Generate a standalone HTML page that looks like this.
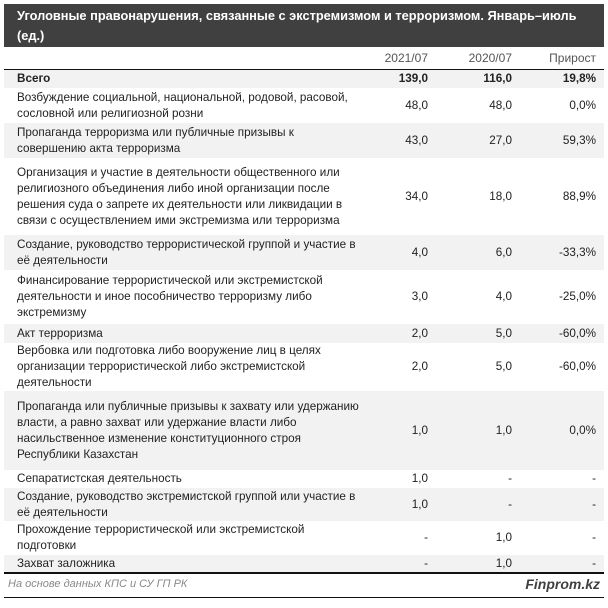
<!DOCTYPE html>
<html><head><meta charset="utf-8"><style>
*{margin:0;padding:0;box-sizing:border-box}
body{width:608px;height:608px;background:#fff;font-family:"Liberation Sans","Noto Sans CJK SC",sans-serif;color:#222;position:relative;overflow:hidden}
.title{position:absolute;left:4px;top:4px;width:600px;height:43px;background:#404040;color:#fff;font-weight:bold;font-size:12.8px;line-height:20px;padding:2px 0 0 13px;white-space:nowrap;overflow:hidden}
.hdr{position:absolute;top:51px;font-size:12px;color:#555;text-align:right}
.line{position:absolute;left:4px;width:600px;height:1.5px;background:#111}
.row{position:absolute;left:4px;width:600px;font-size:11.7px;line-height:16px}
.row.s{background:#f2f2f2}
.row .t{position:absolute;left:13px;top:50%;transform:translateY(-50%);white-space:nowrap}
.row .v{position:absolute;top:50%;transform:translateY(-50%);text-align:right;width:80px}
.a{left:344px}.b{left:428px}.c{left:512px}
.bold{font-weight:bold}
</style></head><body>
<div class="title">Уголовные правонарушения, связанные с экстремизмом и терроризмом. Январь–июль<br>(ед.)</div>
<div class="hdr" style="left:348px;width:80px">2021/07</div>
<div class="hdr" style="left:432px;width:80px">2020/07</div>
<div class="hdr" style="left:516px;width:80px">Прирост</div>
<div class="line" style="top:68.5px"></div>

<div class="row s bold" style="top:70px;height:18px"><span class="t">Всего</span><span class="v a">139,0</span><span class="v b">116,0</span><span class="v c">19,8%</span></div>
<div class="row" style="top:88px;height:35px"><span class="t">Возбуждение социальной, национальной, родовой, расовой,<br>сословной или религиозной розни</span><span class="v a">48,0</span><span class="v b">48,0</span><span class="v c">0,0%</span></div>
<div class="row s" style="top:123px;height:35px"><span class="t">Пропаганда терроризма или публичные призывы к<br>совершению акта терроризма</span><span class="v a">43,0</span><span class="v b">27,0</span><span class="v c">59,3%</span></div>
<div class="row" style="top:158px;height:77px"><span class="t">Организация и участие в деятельности общественного или<br>религиозного объединения либо иной организации после<br>решения суда о запрете их деятельности или ликвидации в<br>связи с осуществлением ими экстремизма или терроризма</span><span class="v a">34,0</span><span class="v b">18,0</span><span class="v c">88,9%</span></div>
<div class="row s" style="top:235px;height:35px"><span class="t">Создание, руководство террористической группой и участие в<br>её деятельности</span><span class="v a">4,0</span><span class="v b">6,0</span><span class="v c">-33,3%</span></div>
<div class="row" style="top:270px;height:54px"><span class="t">Финансирование террористической или экстремистской<br>деятельности и иное пособничество терроризму либо<br>экстремизму</span><span class="v a">3,0</span><span class="v b">4,0</span><span class="v c">-25,0%</span></div>
<div class="row s" style="top:324px;height:19px"><span class="t">Акт терроризма</span><span class="v a">2,0</span><span class="v b">5,0</span><span class="v c">-60,0%</span></div>
<div class="row" style="top:343px;height:48px"><span class="t">Вербовка или подготовка либо вооружение лиц в целях<br>организации террористической либо экстремистской<br>деятельности</span><span class="v a">2,0</span><span class="v b">5,0</span><span class="v c">-60,0%</span></div>
<div class="row s" style="top:391px;height:79px"><span class="t">Пропаганда или публичные призывы к захвату или удержанию<br>власти, а равно захват или удержание власти либо<br>насильственное изменение конституционного строя<br>Республики Казахстан</span><span class="v a">1,0</span><span class="v b">1,0</span><span class="v c">0,0%</span></div>
<div class="row" style="top:470px;height:18px"><span class="t">Сепаратистская деятельность</span><span class="v a">1,0</span><span class="v b">-</span><span class="v c">-</span></div>
<div class="row s" style="top:488px;height:33px"><span class="t">Создание, руководство экстремистской группой или участие в<br>её деятельности</span><span class="v a">1,0</span><span class="v b">-</span><span class="v c">-</span></div>
<div class="row" style="top:521px;height:34px"><span class="t">Прохождение террористической или экстремистской<br>подготовки</span><span class="v a">-</span><span class="v b">1,0</span><span class="v c">-</span></div>
<div class="row s" style="top:555px;height:17px"><span class="t">Захват заложника</span><span class="v a">-</span><span class="v b">1,0</span><span class="v c">-</span></div>
<div class="line" style="top:572px"></div>
<div style="position:absolute;left:8px;top:578px;font-size:11px;font-style:italic;color:#888">На основе данных КПС и СУ ГП РК</div>
<div style="position:absolute;right:8px;top:576px;font-size:14px;font-style:italic;font-weight:bold;color:#404040">Finprom.kz</div>
<div class="line" style="top:596.5px"></div>
</body></html>
